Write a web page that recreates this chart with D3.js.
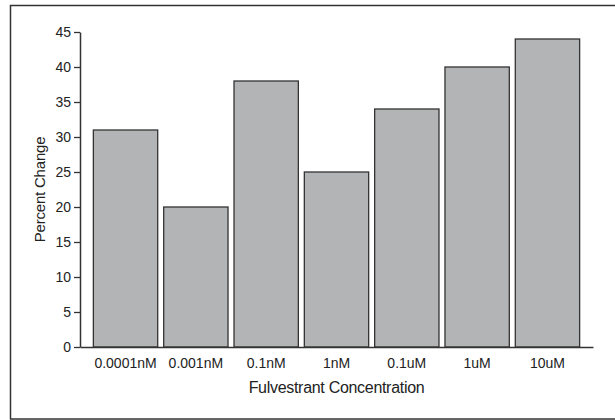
<!DOCTYPE html>
<meta charset="utf-8">
<style>
    body { margin: 0; background: #fff; }
    text { font-family: "Liberation Sans", Arial, sans-serif; fill: #222; }
    .tick-label { font-size: 14px; }
    .axis-title { font-size: 16px; letter-spacing: -0.3px; }
    .axis-title.y-title { font-size: 15px; letter-spacing: -0.2px; }
</style>
<body>
<script src="https://cdn.jsdelivr.net/npm/d3@7"></script>
<script>
    var categories = ["0.0001nM", "0.001nM", "0.1nM", "1nM", "0.1uM", "1uM", "10uM"];
    var percentChange = [31, 20, 38, 25, 34, 40, 44];
    var yTicks = [0, 5, 10, 15, 20, 25, 30, 35, 40, 45];

    var width = 615, height = 420;
    var margin = {top: 32, right: 22, bottom: 73, left: 80};

    var svg = d3.select("body").append("svg")
        .attr("width", width)
        .attr("height", height);

    // outer frame
    svg.append("rect")
        .attr("x", 10.5).attr("y", 5.5)
        .attr("width", 620).attr("height", 413.5)
        .attr("fill", "none")
        .attr("stroke", "#333")
        .attr("stroke-width", 1.5);

    var x = d3.scaleBand()
        .domain(categories)
        .range([margin.left, width - margin.right])
        .paddingInner(0.085)
        .paddingOuter(0.19);

    var y = d3.scaleLinear()
        .domain([0, 45])
        .range([height - margin.bottom, margin.top]);

    // bars
    svg.append("g")
        .selectAll("rect")
        .data(percentChange)
        .enter().append("rect")
        .attr("x", (d, i) => x(categories[i]))
        .attr("y", d => y(d))
        .attr("width", x.bandwidth())
        .attr("height", d => y(0) - y(d))
        .attr("fill", "#b3b4b6")
        .attr("stroke", "#333")
        .attr("stroke-width", 1.3);

    // y axis
    var yAxis = svg.append("g")
        .attr("transform", "translate(" + margin.left + ",0)")
        .call(d3.axisLeft(y).tickValues(yTicks).tickSize(6).tickPadding(3).tickSizeOuter(0));
    yAxis.select(".domain").attr("stroke", "#333").attr("stroke-width", 1.5);
    yAxis.selectAll(".tick line").attr("stroke", "#333").attr("stroke-width", 1.3);
    yAxis.selectAll(".tick text")
        .attr("class", "tick-label")
        .attr("font-family", null).attr("font-size", null)
        .attr("fill", "#222");

    // x axis
    var xAxis = svg.append("g")
        .attr("transform", "translate(0," + y(0) + ")")
        .call(d3.axisBottom(x).tickSize(0).tickPadding(11).tickSizeOuter(0));
    xAxis.select(".domain").attr("stroke", "#333").attr("stroke-width", 1.5);
    xAxis.selectAll(".tick text")
        .attr("class", "tick-label")
        .attr("font-family", null).attr("font-size", null)
        .attr("fill", "#222");

    // axis titles
    svg.append("text")
        .attr("class", "axis-title")
        .attr("x", (margin.left + width - margin.right) / 2)
        .attr("y", 393)
        .attr("text-anchor", "middle")
        .text("Fulvestrant Concentration");

    svg.append("text")
        .attr("class", "axis-title y-title")
        .attr("transform", "translate(45," + (y(0) + y(45)) / 2 + ") rotate(-90)")
        .attr("text-anchor", "middle")
        .text("Percent Change");
</script>
</body>
